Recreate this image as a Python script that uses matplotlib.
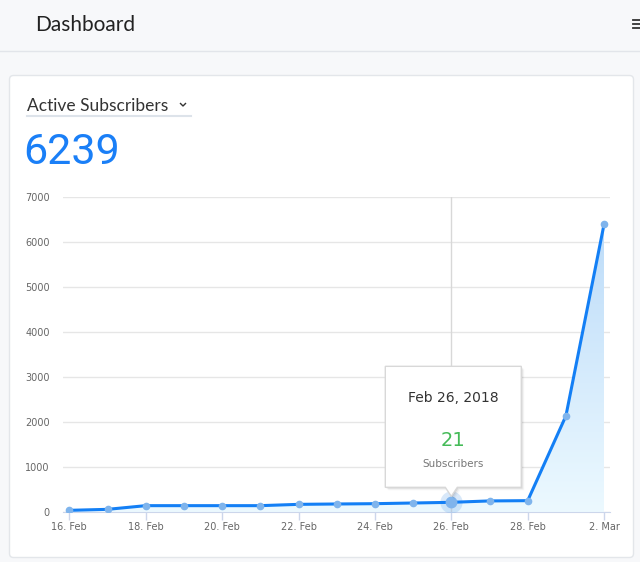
import datetime as dt
import numpy as np
import matplotlib
matplotlib.use('Agg')
import matplotlib.pyplot as plt
import matplotlib.dates as mdates
from matplotlib.patches import FancyBboxPatch, Polygon
from matplotlib.colors import LinearSegmentedColormap

# data
dates = [dt.date(2018, 2, 16) + dt.timedelta(days=i) for i in range(15)]
subscribers = [37, 59, 141, 141, 141, 141, 170, 178, 185, 200, 215, 246, 252, 2135, 6399]
y_ticks = [0, 1000, 2000, 3000, 4000, 5000, 6000, 7000]
tick_dates = dates[::2]

title = 'Dashboard'
metric_name = 'Active Subscribers'
metric_value = '6239'
tip_date = 'Feb 26, 2018'
tip_value = '21'
tip_label = 'Subscribers'
hover_idx = 10

W, H = 640, 562
blue = '#137ff5'
fig = plt.figure(figsize=(W / 100, H / 100), dpi=100, facecolor='#f7f8fa')

# page background in pixel coords
bg = fig.add_axes([0, 0, 1, 1])
bg.set_xlim(0, W)
bg.set_ylim(H, 0)
bg.axis('off')
bg.plot([0, W], [50.5, 50.5], color='#e2e5ea', lw=1)
bg.add_patch(FancyBboxPatch((9.5, 75.5), 624, 482, boxstyle='round,pad=0,rounding_size=4',
                            fc='white', ec='#e3e6ea', lw=1))
bg.text(35, 25, title, fontsize=15, family='Lato', color='#222222', va='center')
for yy in (20, 24, 28):
    bg.plot([633, 640], [yy, yy], color='#333333', lw=1.3)
bg.text(27, 106, metric_name, fontsize=12.5, family='Lato', color='#333333', va='center')
bg.plot([180.5, 183, 185.5], [103.5, 106, 103.5], color='#333333', lw=1)
bg.plot([27, 191], [115.5, 115.5], color='#dde3ea', lw=1.5)
bg.text(23, 152, metric_value, fontsize=31, family='Roboto', color='#1a7ff7', va='center')

# chart
x = mdates.date2num(dates)
px_day = 38.2
ax = fig.add_axes([63 / W, 50 / H, 547 / W, 315 / H], zorder=2)
ax.set_facecolor('none')

verts = list(zip(x, subscribers)) + [(x[-1], 0), (x[0], 0)]
area = Polygon(verts, closed=True, fc='none', ec='none', transform=ax.transData)
ax.add_patch(area)
cmap = LinearSegmentedColormap.from_list('area', ['#ecf9ff', '#bddcf9'])
grad = np.linspace(0, 1, 256).reshape(-1, 1)
im = ax.imshow(grad, cmap=cmap, aspect='auto', origin='lower',
               extent=[x[0], x[-1], 0, max(subscribers)], zorder=1)
im.set_clip_path(area)

ax.axvline(x[hover_idx], color='#d8d8d8', lw=1, zorder=1.5)
ax.plot(x, subscribers, color=blue, lw=2.2, marker='o', ms=4.5,
        mfc='#7fb4ec', mec='#7fb4ec', zorder=4, solid_joinstyle='round')
ax.plot(x[hover_idx], subscribers[hover_idx], marker='o', ms=16, mfc='#7fb4ec',
        mec='none', alpha=0.3, zorder=3)
ax.plot(x[hover_idx], subscribers[hover_idx], marker='o', ms=7.5, mfc='#7fb4ec',
        mec='#7fb4ec', zorder=5)

ax.set_xlim(x[0] - 6.3 / px_day, x[0] + 540.7 / px_day)
ax.set_ylim(0, 7000)
ax.set_yticks(y_ticks)
ax.set_xticks(mdates.date2num(tick_dates))
ax.set_xticklabels([f'{d.day}. {d:%b}' for d in tick_dates])
ax.yaxis.grid(True, color='#e6e6e6', lw=1, zorder=0)
ax.set_axisbelow(True)
ax.tick_params(axis='y', length=0, pad=9.4, labelsize=7, labelcolor='#666666')
ax.tick_params(axis='x', length=5.8, width=1, color='#ccd6eb', pad=1.5,
               labelsize=7, labelcolor='#666666')
for s in ('top', 'right', 'left'):
    ax.spines[s].set_visible(False)
ax.spines['bottom'].set_color('#ccd6eb')
ax.spines['bottom'].set_zorder(1.6)

# tooltip anchored to the hovered point
dx, dy = ax.transData.transform((x[hover_idx], subscribers[hover_idx]))
px, py = dx, H - dy
ov = fig.add_axes([0, 0, 1, 1], zorder=6)
ov.set_xlim(0, W)
ov.set_ylim(H, 0)
ov.axis('off')
left, right = px - 66, px + 70
top, bottom = py - 136, py - 15
tip = [(left, top), (right, top), (right, bottom), (px + 6, bottom), (px, py - 6),
       (px - 6, bottom), (left, bottom)]
for off, a in ((3, 0.03), (2, 0.05), (1, 0.08)):
    ov.add_patch(Polygon([(a_ + off, b_ + off) for a_, b_ in tip], closed=True,
                         fc='black', ec='none', alpha=a))
ov.add_patch(Polygon(tip, closed=True, fc='white', ec='#d8d8d8', lw=1))
cx = (left + right) / 2
ov.text(cx, top + 32, tip_date, fontsize=10, color='#333333', ha='center', va='center')
ov.text(cx, top + 74, tip_value, fontsize=14, color='#45bb58', ha='center', va='center')
ov.text(cx, top + 98, tip_label, fontsize=7.5, color='#777777', ha='center', va='center')

fig.savefig('out.png', dpi=100, facecolor=fig.get_facecolor())
